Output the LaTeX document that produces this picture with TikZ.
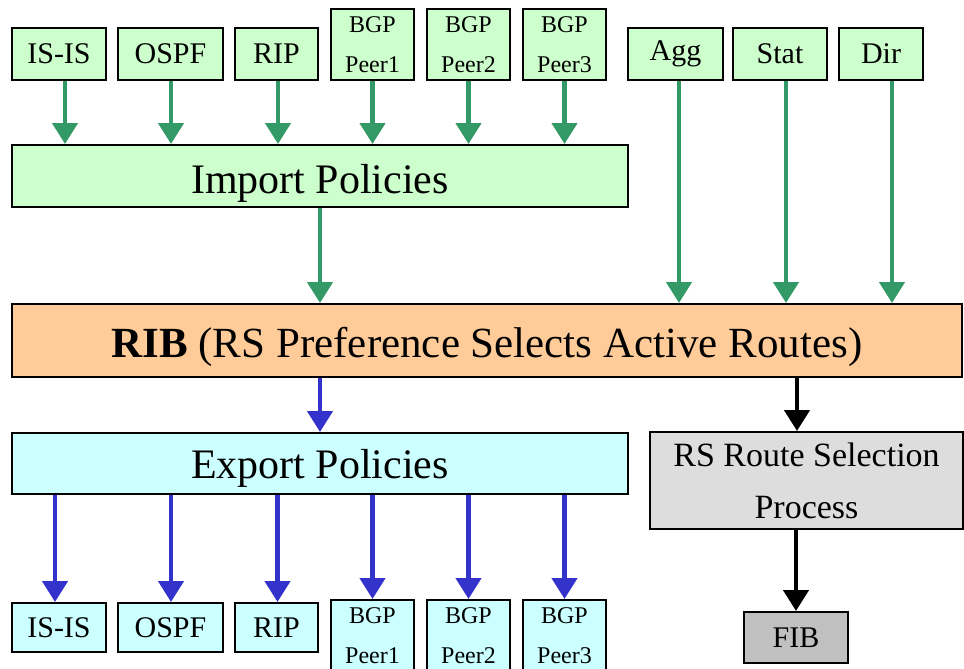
\documentclass[tikz,border=0pt]{standalone}
\usepackage{fontspec}
\setmainfont{Liberation Serif}
\usetikzlibrary{arrows.meta}
\definecolor{srcfill}{HTML}{CCFFCC}
\definecolor{ribfill}{HTML}{FFCC99}
\definecolor{expfill}{HTML}{CCFFFF}
\definecolor{selfill}{HTML}{DDDDDD}
\definecolor{fibfill}{HTML}{C0C0C0}
\definecolor{imparrow}{HTML}{339966}
\definecolor{exparrow}{HTML}{3333CC}
\begin{document}
\begin{tikzpicture}[x=1pt,y=-1pt,
  box/.style={draw=black, line width=2pt, inner sep=0pt, align=center},
  proto/.style={box, minimum height=52pt, font=\fontsize{30}{36}\selectfont},
  peer/.style={box, minimum width=83pt, minimum height=71pt, font=\fontsize{24}{40}\selectfont},
  wide/.style={box, minimum width=616pt, minimum height=62pt, font=\fontsize{42}{50}\selectfont},
  tipbig/.style={-{Triangle[width=25pt,length=21pt]}},
  inflow/.style={draw=imparrow, line width=4.5pt, tipbig},
  outflow/.style={draw=exparrow, line width=4.5pt, tipbig},
  fibflow/.style={draw=black, line width=4.5pt, tipbig}]
\useasboundingbox (0,0) rectangle (964,669);

% route sources
\node[proto, fill=srcfill, minimum width=94pt]  (isisI) at (59,54)    {IS-IS};
\node[proto, fill=srcfill, minimum width=105pt] (ospfI) at (170.5,54) {OSPF};
\node[proto, fill=srcfill, minimum width=83pt]  (ripI)  at (276.5,54) {RIP};
\node[peer, fill=srcfill] (peerAI) at (372.5,44.5) {BGP\\Peer1};
\node[peer, fill=srcfill] (peerBI) at (468.5,44.5) {BGP\\Peer2};
\node[peer, fill=srcfill] (peerCI) at (564.5,44.5) {BGP\\Peer3};
\node[proto, fill=srcfill, minimum width=95pt]  (agg)  at (675.5,54) {Agg};
\node[proto, fill=srcfill, minimum width=94pt]  (stat) at (780,54)   {Stat};
\node[proto, fill=srcfill, minimum width=84pt]  (dir)  at (881,54)   {Dir};

% policy stages and tables (text height sets the baseline inside the box)
\node[wide, fill=srcfill, text height=34pt, text depth=0pt] (imp) at (320,176) {Import Policies};
\node[box, fill=ribfill, minimum width=950pt, minimum height=73pt,
      text height=33pt, text depth=0pt,
      font=\fontsize{43}{50}\selectfont] (rib) at (487,340.5)
      {\textbf{RIB} (RS Preference Selects Active Routes)};
\node[wide, fill=expfill, minimum height=61pt, text height=29pt, text depth=0pt]
      (exp) at (320,463.5) {Export Policies};
\node[box, fill=selfill, minimum width=313pt, minimum height=97pt,
      font=\fontsize{34}{52}\selectfont] (sel) at (806.5,480.5)
      {RS Route Selection\\Process};
\node[box, fill=fibfill, minimum width=104pt, minimum height=51pt,
      font=\fontsize{30}{36}\selectfont] (fib) at (796,637.5) {FIB};

% export targets
\node[proto, fill=expfill, minimum width=94pt, minimum height=49pt]  (isisO) at (59,627.5)    {IS-IS};
\node[proto, fill=expfill, minimum width=105pt, minimum height=49pt] (ospfO) at (170.5,627.5) {OSPF};
\node[proto, fill=expfill, minimum width=83pt, minimum height=49pt]  (ripO)  at (276.5,627.5) {RIP};
\node[peer, fill=expfill] (peerAO) at (372.5,635.5) {BGP\\Peer1};
\node[peer, fill=expfill] (peerBO) at (468.5,635.5) {BGP\\Peer2};
\node[peer, fill=expfill] (peerCO) at (564.5,635.5) {BGP\\Peer3};

% import arrows
\draw[inflow] ([xshift=6pt]isisI.south) -- ([xshift=6pt]isisI.south |- imp.north);
\draw[inflow] ([xshift=0.5pt]ospfI.south) -- ([xshift=0.5pt]ospfI.south |- imp.north);
\draw[inflow] ([xshift=1.5pt]ripI.south) -- ([xshift=1.5pt]ripI.south |- imp.north);
\draw[inflow] (peerAI.south) -- (peerAI.south |- imp.north);
\draw[inflow] (peerBI.south) -- (peerBI.south |- imp.north);
\draw[inflow] (peerCI.south) -- (peerCI.south |- imp.north);
\draw[inflow] (imp.south) -- (imp.south |- rib.north);
\draw[inflow] ([xshift=3.5pt]agg.south) -- ([xshift=3.5pt]agg.south |- rib.north);
\draw[inflow] ([xshift=6pt]stat.south) -- ([xshift=6pt]stat.south |- rib.north);
\draw[inflow] ([xshift=11pt]dir.south) -- ([xshift=11pt]dir.south |- rib.north);

% export arrows
\draw[outflow] (rib.south -| exp.north) -- (exp.north);
\draw[outflow] ([xshift=-4pt]isisO.north |- exp.south) -- ([xshift=-4pt]isisO.north);
\draw[outflow] ([xshift=0.5pt]ospfO.north |- exp.south) -- ([xshift=0.5pt]ospfO.north);
\draw[outflow] ([xshift=1pt]ripO.north |- exp.south) -- ([xshift=1pt]ripO.north);
\draw[outflow] (peerAO.north |- exp.south) -- (peerAO.north);
\draw[outflow] (peerBO.north |- exp.south) -- (peerBO.north);
\draw[outflow] (peerCO.north |- exp.south) -- (peerCO.north);

% forwarding path
\draw[fibflow] ([xshift=-9.5pt]sel.north |- rib.south) -- ([xshift=-9.5pt]sel.north);
\draw[fibflow] (fib.north |- sel.south) -- (fib.north);
\end{tikzpicture}
\end{document}
